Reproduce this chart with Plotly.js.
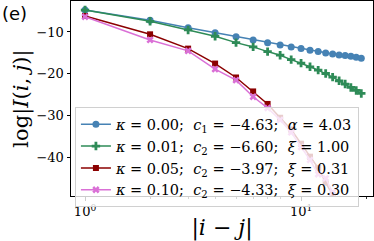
<!DOCTYPE html>
<html>
<head>
<meta charset="utf-8">
<script src="https://cdn.plot.ly/plotly-3.0.1.min.js"></script>
<style>html,body{margin:0;padding:0;background:#fff;}#chart{width:374px;height:241px;}</style>
</head>
<body>
<div id="chart"></div>
<script>
const distance = [1,2,3,4,5,6,7,8,9,10,11,12,13,14,15,16,17,18,19];
const kappa000 = [-4.76,-7.21,-8.98,-10.17,-11.12,-11.9,-12.55,-13.1,-13.57,-13.98,-14.36,-14.69,-15.0,-15.24,-15.48,-15.64,-15.79,-16.02,-16.26];
const kappa001 = [-4.76,-7.45,-9.52,-11.02,-12.55,-13.57,-14.69,-15.55,-16.6,-17.45,-18.33,-19.12,-19.93,-20.79,-21.67,-22.45,-23.26,-23.98,-24.69];
const distanceShort = [1,2,3,4,5,6,7,8,9,10,11,12,13,14];
const kappa005 = [-6.19,-10.56,-13.98,-17.55,-20.88,-24.21,-27.2,-30.5,-33.3,-36.7,-39.8,-42.5,-46.0,-49.0];
const kappa010 = [-6.36,-11.9,-14.52,-18.88,-21.5,-25.48,-28.17,-31.0,-34.0,-37.5,-40.6,-44.0,-45.0,-48.3];
const legendNames = [
  "<i>κ</i> = 0.00;  <i>c</i><sub>1</sub> = −4.63;  <i>α</i> = 4.03",
  "<i>κ</i> = 0.01;  <i>c</i><sub>2</sub> = −6.60;  <i>ξ</i> = 1.00",
  "<i>κ</i> = 0.05;  <i>c</i><sub>2</sub> = −3.97;  <i>ξ</i> = 0.31",
  "<i>κ</i> = 0.10;  <i>c</i><sub>2</sub> = −4.33;  <i>ξ</i> = 0.30"
];
const yTickVals = [-10,-20,-30,-40];
const yTickText = ["−10","−20","−30","−40"];
const xTickVals = [1,10];
const xTickText = ["10<sup>0</sup>","10<sup>1</sup>"];
const xMinorVals = [2,3,4,5,6,7,8,9,20];
const panelLabel = "(e)";

const serif = "DejaVu Serif";
const traces = [
  {x: distance, y: kappa000, name: legendNames[0], mode: "lines+markers",
   line: {color: "#4682b4", width: 1.5}, marker: {symbol: "circle", size: 7, color: "#4682b4"}},
  {x: distance, y: kappa001, name: legendNames[1], mode: "lines+markers",
   line: {color: "#2e8b57", width: 1.5}, marker: {symbol: "cross", size: 7, color: "#2e8b57"}},
  {x: distanceShort, y: kappa005, name: legendNames[2], mode: "lines+markers",
   line: {color: "#8b0000", width: 1.5}, marker: {symbol: "square", size: 6, color: "#8b0000"}},
  {x: distanceShort, y: kappa010, name: legendNames[3], mode: "lines+markers",
   line: {color: "#da70d6", width: 1.5}, marker: {symbol: "x", size: 6.5, color: "#da70d6"}}
];
const layout = {
  width: 374, height: 241,
  margin: {l: 71, r: 1, t: 1, b: 45},
  paper_bgcolor: "#fff", plot_bgcolor: "#fff",
  showlegend: true,
  annotations: [{text: panelLabel, xref: "paper", yref: "paper", x: -0.236, y: 1.0, xanchor: "left", yanchor: "top",
                 showarrow: false, font: {family: "DejaVu Sans", size: 18, color: "#000"}}],
  xaxis: {type: "log", range: [-0.065, 1.333], showgrid: false, zeroline: false,
          showline: true, linecolor: "#000", linewidth: 1, mirror: true,
          ticks: "outside", ticklen: 3.5, tickwidth: 1, tickcolor: "#000",
          tickvals: xTickVals, ticktext: xTickText,
          tickfont: {family: serif, size: 13, color: "#000"},
          minor: {ticks: "outside", ticklen: 2, tickwidth: 0.8, tickcolor: "#000", tickvals: xMinorVals, showgrid: false},
          title: {text: "|<i>i</i> − <i>j</i>|", font: {family: serif, size: 22, color: "#000"}, standoff: 4}},
  yaxis: {range: [-49.2, -2.6], showgrid: false, zeroline: false,
          showline: true, linecolor: "#000", linewidth: 1, mirror: true,
          ticks: "outside", ticklen: 3.5, tickwidth: 1, tickcolor: "#000",
          tickvals: yTickVals, ticktext: yTickText,
          tickfont: {family: serif, size: 13, color: "#000"},
          title: {text: "log|<i>I</i>(<i>i</i>, <i>j</i>)|", font: {family: serif, size: 21, color: "#000"}, standoff: 2}},
  legend: {x: 0.013, y: 0.455, xanchor: "left", yanchor: "top",
           bgcolor: "rgba(255,255,255,0.8)", bordercolor: "#d0d0d0", borderwidth: 1,
           font: {family: serif, size: 14.5, color: "#000"}, itemwidth: 30, tracegroupgap: 0}
};
Plotly.newPlot("chart", traces, layout, {displayModeBar: false, staticPlot: true});
</script>
</body>
</html>
